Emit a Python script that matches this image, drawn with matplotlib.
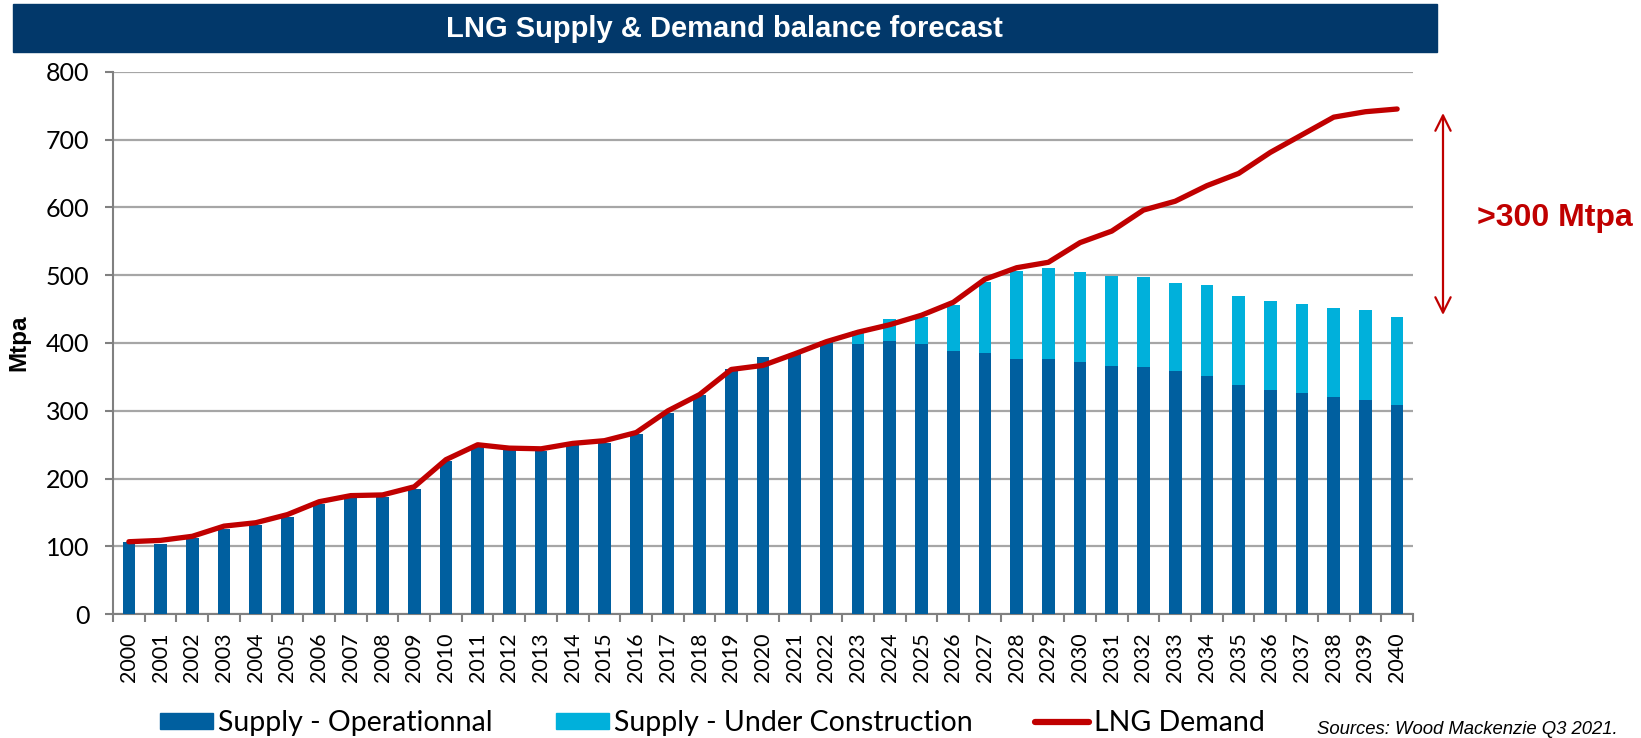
import matplotlib
matplotlib.use("Agg")
import matplotlib.pyplot as plt
from matplotlib.patches import Rectangle
from matplotlib.lines import Line2D
from matplotlib.patches import Patch
import numpy as np

years = [str(y) for y in range(2000, 2041)]
operational = [106, 104, 112, 126, 132, 143, 162, 173, 173, 185, 226, 247, 242, 241,
               249, 253, 266, 297, 323, 362, 379, 384, 403, 398, 403, 398, 388, 385,
               377, 377, 372, 366, 365, 358, 352, 338, 330, 326, 320, 316, 308]
under_construction = [0, 0, 0, 0, 0, 0, 0, 0, 0, 0, 0, 0, 0, 0, 0, 0, 0, 0, 0, 0, 0, 0, 0,
                      19, 33, 40, 68, 105, 129, 133, 133, 133, 132, 131, 133, 132, 132,
                      131, 132, 132, 131]
demand = [107, 109, 115, 130, 135, 147, 166, 175, 176, 188, 228, 250, 245, 244, 252,
          256, 268, 300, 324, 361, 367, 384, 402, 416, 427, 441, 460, 494, 511, 519,
          548, 565, 596, 609, 632, 650, 681, 707, 733, 741, 745]
y_ticks = [0, 100, 200, 300, 400, 500, 600, 700, 800]

C_OP = "#005F9F"
C_UC = "#00B0DB"
C_DEM = "#C00000"
C_TITLE = "#02386A"
C_GRID = "#A6A6A6"
TICKFONT = "Lato"

W, H = 1641, 738
fig = plt.figure(figsize=(W / 100, H / 100), dpi=100)
ax = fig.add_axes([113 / W, 1 - 614.3 / H, 1300 / W, (614.3 - 71.7) / H])

x = np.arange(len(years))
ax.bar(x, operational, width=0.4, color=C_OP, zorder=3)
ax.bar(x, under_construction, width=0.4, bottom=operational, color=C_UC, zorder=3)
ax.plot(x, demand, color=C_DEM, lw=3.8, zorder=4, solid_capstyle="round", solid_joinstyle="round")

ax.set_xlim(-0.5, len(years) - 0.5)
ax.set_ylim(0, 800)
ax.set_yticks(y_ticks)
ax.set_yticklabels([str(v) for v in y_ticks], fontfamily=TICKFONT, fontsize=18)
ax.set_xticks(x)
ax.set_xticklabels(years, rotation=90, fontfamily=TICKFONT, fontsize=15.5)
ax.set_xticks(np.arange(-0.5, len(years), 1.0), minor=True)
ax.tick_params(axis="x", which="major", length=0, pad=13)
ax.tick_params(axis="x", which="minor", length=6, width=1.5, color="#808080", direction="out")
ax.tick_params(axis="y", length=6, width=1.5, color="#808080", pad=11)

ax.grid(axis="y", color=C_GRID, lw=1.6, zorder=0)
ax.set_axisbelow(True)
for s in ["top", "right"]:
    ax.spines[s].set_visible(False)
for s in ["left", "bottom"]:
    ax.spines[s].set_color("#808080")
    ax.spines[s].set_linewidth(1.5)

fig.text(19 / W, 1 - 343 / H, "Mtpa", rotation=90, ha="center", va="center",
         fontfamily="Liberation Sans", fontweight="bold", fontsize=17.5)

# title bar
fig.patches.append(Rectangle((12.6 / W, 1 - 52 / H), (1436.6 - 12.6) / W, 48 / H,
                             transform=fig.transFigure, color=C_TITLE, zorder=0))
fig.text(724.6 / W, 1 - 29 / H, "LNG Supply & Demand balance forecast", ha="center", va="center",
         color="white", fontfamily="Liberation Sans", fontweight="bold", fontsize=21)

# annotation arrow
ax.annotate("", xy=(1443, H - 113), xytext=(1443, H - 315), xycoords="figure pixels",
            textcoords="figure pixels",
            arrowprops=dict(arrowstyle="<->,head_length=1.1,head_width=0.55",
                            color=C_DEM, lw=1.6, shrinkA=0, shrinkB=0),
            annotation_clip=False)
fig.text(1477 / W, 1 - 218 / H, ">300 Mtpa", ha="left", va="center", color=C_DEM,
         fontfamily="Liberation Sans", fontweight="bold", fontsize=23)

# legend
handles = [Patch(color=C_OP), Patch(color=C_UC), Line2D([], [], color=C_DEM, lw=4.5, solid_capstyle="round")]
labels = ["Supply - Operationnal", "Supply - Under Construction", "LNG Demand"]
fig.legend(handles, labels, loc="center left", bbox_to_anchor=(160 / W, 1 - 723 / H), ncol=3,
           frameon=False, prop=dict(family=TICKFONT, size=20.5), handlelength=1.87, handleheight=0.53,
           handletextpad=0.18, columnspacing=2.2, borderaxespad=0, borderpad=0)

fig.text(1317 / W, 1 - 729 / H, "Sources: Wood Mackenzie Q3 2021.", ha="left", va="center",
         fontfamily="Liberation Sans", fontstyle="italic", fontsize=13.3)

fig.savefig("out.png", dpi=100)
